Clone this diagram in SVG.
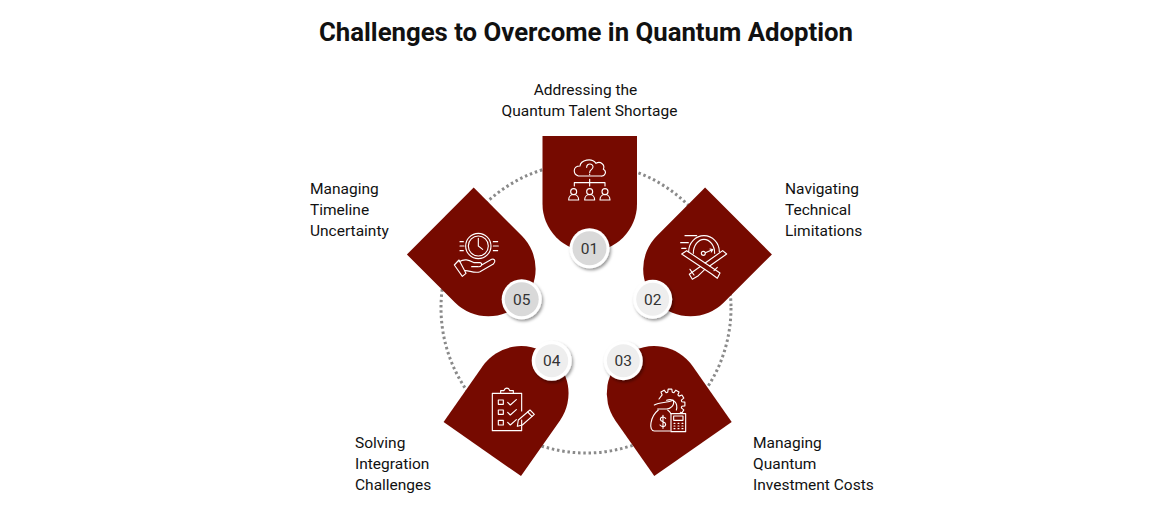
<svg xmlns="http://www.w3.org/2000/svg" width="1170" height="525" viewBox="0 0 1170 525">
<style>
text{font-family:Roboto,"Liberation Sans",sans-serif;fill:#111}
.t{font-size:25.75px;font-weight:700;text-anchor:middle}
.l{font-size:15.5px}
.m{text-anchor:middle}
.s{fill:#760a00}
.b{font-size:15.5px;text-anchor:middle;fill:#333}
.w{fill:#fff;filter:url(#sh)}
.d{fill:#d9d9d9}.e{fill:#eeeeee}
.i{fill:none;stroke:#fff;stroke-width:3.4;stroke-linecap:round;stroke-linejoin:round}
</style>
<defs>
<path id="sp" d="M-47.25,0H47.25V68A47.25,47.25 0 0 1 -47.25,68Z"/>
<filter id="sh" x="-30%" y="-30%" width="170%" height="170%"><feDropShadow dx="1.5" dy="2" stdDeviation="1.8" flood-color="#000" flood-opacity=".4"/></filter>
</defs>
<rect width="1170" height="525" fill="#fff"/>
<text class="t" x="586" y="41">Challenges to Overcome in Quantum Adoption</text>
<g id="connectors"><circle cx="586" cy="308" r="145" fill="none" stroke="#8a8a8a" stroke-width="3" stroke-dasharray="2.5 2.8"/></g>

<g id="node-1">
<use href="#sp" class="s" transform="translate(589.75 136)"/>
<g class="i" transform="translate(530 130) scale(.3333)">
<path d="M145,138C128,132 128,108 150,108C152,90 185,82 198,100C212,92 226,105 220,118C232,125 225,140 212,138Z"/>
<path d="M170,112C170,98 190,100 189,111C188,120 179,118 179,128M179,133V134"/>
<path d="M133,168V158H225V168M179,148V168"/>
<circle cx="131" cy="185" r="9"/><path d="M116,210C116,188 146,188 146,210Z"/>
<circle cx="179" cy="185" r="9"/><path d="M164,210C164,188 194,188 194,210Z"/>
<circle cx="225" cy="185" r="9"/><path d="M210,210C210,188 240,188 240,210Z"/>
</g>
<circle class="w" cx="589.5" cy="248.3" r="20"/><circle class="d" cx="589.5" cy="248.3" r="17"/>
<text class="b" x="589.5" y="253.8">01</text>
</g>

<g id="node-2">
<use href="#sp" class="s" transform="translate(738.5 221) rotate(45)"/>
<g class="i" transform="translate(630 180) scale(.3333)">
<path d="M176,215A46,48 0 0 1 268,215"/>
<path d="M190,220A32,42 0 0 1 254,220"/>
<path d="M165,167H200M152,188H175M155,205H168"/>
<circle cx="220" cy="220" r="6"/><path d="M226,218L247,209M240,207L248,209L244,216"/>
<path d="M155,222L170,212L270,279L262,295L245,282Z"/>
<path d="M225.6,249L278,212L290,222L239,258"/>
<path d="M211,259.5L178,283L187,298L205,287L224.6,268.4"/>
<path d="M180,268L192,285M262,262L252,272"/>
</g>
<circle class="w" cx="652.7" cy="299.3" r="19.5"/><circle class="e" cx="652.7" cy="299.3" r="16.5"/>
<text class="b" x="652.7" y="304.8">02</text>
</g>

<g id="node-3">
<use href="#sp" class="s" transform="translate(693 449) rotate(145)"/>
<g class="i" transform="translate(595 335) scale(.3333)">
<path d="M192,192L201.4,179.8L197.9,171.1L207.4,165.6L213.3,173L218.1,171.7L219.5,162.3L230.5,162.3L231.9,171.7L236.7,173L242.6,165.6L252.1,171.1L248.6,179.8L252.2,183.4L260.9,179.9L266.4,189.4L259,195.3L260.3,200.1L269.7,201.5L269.7,212.5L260.3,213.9L259,218.7L266.4,224.6L260.9,234.1L256,232"/>
<path d="M215,196C235,188 250,205 244,225"/>
<path d="M178,210C195,200 215,205 235,196C240,212 225,222 215,222M188,222H218"/>
<path d="M190,225C165,245 160,288 178,288H225"/>
<path d="M218,225C222,228 226,232 228,236"/>
<rect x="228" y="236" width="44" height="54"/>
<rect x="236" y="243" width="28" height="13"/>
<path d="M237,265H240M249,265H252M261,265H264M237,273H240M249,273H252M261,273H264M237,281H240M249,281H252M261,281H264"/>
<path d="M212,250C206,243 196,246 196,253C196,262 212,259 212,268C212,276 200,277 195,270M204,241V280"/>
</g>
<circle class="w" cx="623.3" cy="360.7" r="19.5"/><circle class="e" cx="623.3" cy="360.7" r="16.5"/>
<text class="b" x="623.3" y="366.2">03</text>
</g>

<g id="node-4">
<use href="#sp" class="s" transform="translate(482.3 449) rotate(215)"/>
<g class="i" transform="translate(435 335) scale(.3333)">
<path d="M197,175H172V287H260V255M260,228V175H235"/>
<path d="M197,175V167H207C210,157 222,157 224,167H235V175Z"/>
<rect x="190" y="195" width="15" height="13"/><rect x="190" y="225" width="15" height="13"/><rect x="190" y="256" width="15" height="14"/>
<path d="M218,202L226,210L244,194M218,232L226,240L244,224M218,262L226,270L244,254"/>
<path d="M250,255L285,225L298,238L262,270L247,274Z"/><path d="M278,231L291,244"/>
</g>
<circle class="w" cx="551.7" cy="360.7" r="20"/><circle class="e" cx="551.7" cy="360.7" r="16.5"/>
<text class="b" x="551.7" y="366.2">04</text>
</g>

<g id="node-5">
<use href="#sp" class="s" transform="translate(440.3 221) rotate(-45)"/>
<g class="i" transform="translate(400 180) scale(.3333)">
<circle cx="235" cy="198" r="38"/><circle cx="235" cy="198" r="30"/>
<path d="M235,175V198L248,208"/>
<path d="M180,185H190M180,198H192M180,212H190M280,185H293M280,198H295M280,212H293"/>
<path d="M163,255L177,240L198,280L187,289Z"/>
<path d="M177,245C195,235 205,240 222,248H240C250,250 245,262 232,260H215M245,255L275,238C285,235 288,245 280,252L240,275C225,282 205,270 195,272"/>
</g>
<circle class="w" cx="521.7" cy="299.3" r="20"/><circle class="d" cx="521.7" cy="299.3" r="17"/>
<text class="b" x="521.7" y="304.8">05</text>
</g>

<g id="labels">
<text class="l m" x="585.5" y="95">Addressing the</text>
<text class="l m" x="589.5" y="116">Quantum Talent Shortage</text>
<text class="l" x="785" y="194">Navigating</text><text class="l" x="785" y="215">Technical</text><text class="l" x="785" y="236">Limitations</text>
<text class="l" x="310" y="194">Managing</text><text class="l" x="310" y="215">Timeline</text><text class="l" x="310" y="236">Uncertainty</text>
<text class="l" x="355" y="448">Solving</text><text class="l" x="355" y="469">Integration</text><text class="l" x="355" y="490">Challenges</text>
<text class="l" x="753" y="448">Managing</text><text class="l" x="753" y="469">Quantum</text><text class="l" x="753" y="490">Investment Costs</text>
</g>
</svg>
